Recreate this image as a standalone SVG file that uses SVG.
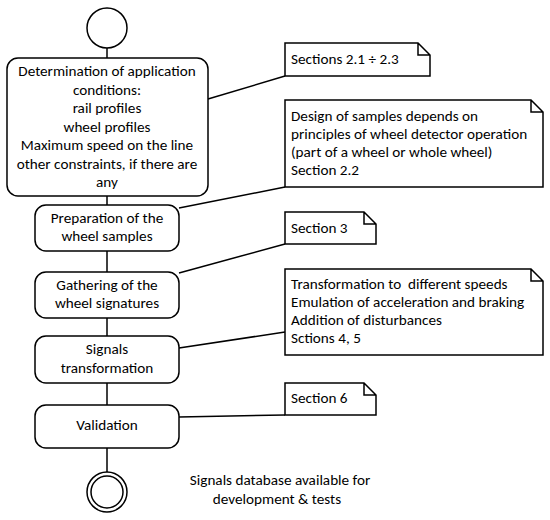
<svg xmlns="http://www.w3.org/2000/svg" width="550" height="520" viewBox="0 0 550 520">
<style>
.n{fill:#fff;stroke:#000;stroke-width:1.5}
.t{font-family:Carlito,"Liberation Sans",sans-serif;font-size:15.2px;fill:#000;white-space:pre}
.c{text-anchor:middle}
.l{stroke:#000;stroke-width:1.5;fill:none}
</style>
<rect width="550" height="520" fill="#fff"/>
<g id="connectors">
<line class="l" x1="107" y1="48" x2="107" y2="58"/>
<line class="l" x1="107" y1="196" x2="107" y2="205"/>
<line class="l" x1="107" y1="251" x2="107" y2="272"/>
<line class="l" x1="107" y1="318" x2="107" y2="336"/>
<line class="l" x1="107" y1="383" x2="107" y2="405"/>
<line class="l" x1="107" y1="448" x2="107" y2="472"/>
<line class="l" x1="208" y1="99" x2="285" y2="76"/>
<line class="l" x1="179" y1="208" x2="285" y2="187"/>
<line class="l" x1="179" y1="273" x2="285" y2="244"/>
<line class="l" x1="179" y1="348" x2="285" y2="332"/>
<line class="l" x1="179" y1="417" x2="285" y2="415"/>
</g>
<g id="start"><circle class="n" cx="107" cy="28" r="20"/></g>
<g id="n1">
<rect class="n" x="7" y="58" width="201" height="138" rx="11"/>
<text class="t c" x="107" y="76">Determination of application</text>
<text class="t c" x="107" y="94.5">conditions:</text>
<text class="t c" x="107" y="113">rail profiles</text>
<text class="t c" x="107" y="131.5">wheel profiles</text>
<text class="t c" x="107" y="150">Maximum speed on the line</text>
<text class="t c" x="107" y="168.5">other constraints, if there are</text>
<text class="t c" x="107" y="187">any</text>
</g>
<g id="n2">
<rect class="n" x="35" y="205" width="144" height="46" rx="11"/>
<text class="t c" x="107" y="223">Preparation of the</text>
<text class="t c" x="107" y="241">wheel samples</text>
</g>
<g id="n3">
<rect class="n" x="35" y="272" width="144" height="46" rx="11"/>
<text class="t c" x="107" y="290">Gathering of the</text>
<text class="t c" x="107" y="308">wheel signatures</text>
</g>
<g id="n4">
<rect class="n" x="35" y="336" width="144" height="47" rx="11"/>
<text class="t c" x="107" y="354">Signals</text>
<text class="t c" x="107" y="373">transformation</text>
</g>
<g id="n5">
<rect class="n" x="35" y="405" width="144" height="43" rx="11"/>
<text class="t c" x="107" y="430">Validation</text>
</g>
<g id="end">
<circle class="n" cx="107" cy="492" r="20"/>
<circle class="n" cx="107" cy="492" r="16"/>
</g>
<g id="endlabel">
<text class="t c" x="280" y="485">Signals database available for</text>
<text class="t c" x="277" y="504">development &amp; tests</text>
</g>
<g id="note1">
<path class="n" d="M285,43 H418 L430,55 V76 H285 Z M418,43 V55 H430"/>
<text class="t" x="291" y="64">Sections 2.1 ÷ 2.3</text>
</g>
<g id="note2">
<path class="n" d="M285,100 H531 L543,112 V187 H285 Z M531,100 V112 H543"/>
<text class="t" x="291" y="121">Design of samples depends on</text>
<text class="t" x="291" y="139">principles of wheel detector operation</text>
<text class="t" x="291" y="157">(part of a wheel or whole wheel)</text>
<text class="t" x="291" y="175">Section 2.2</text>
</g>
<g id="note3">
<path class="n" d="M285,212 H364 L376,224 V244 H285 Z M364,212 V224 H376"/>
<text class="t" x="291" y="233">Section 3</text>
</g>
<g id="note4">
<path class="n" d="M285,269 H531 L543,281 V355 H285 Z M531,269 V281 H543"/>
<text class="t" x="291" y="289">Transformation to  different speeds</text>
<text class="t" x="291" y="307">Emulation of acceleration and braking</text>
<text class="t" x="291" y="325">Addition of disturbances</text>
<text class="t" x="291" y="343">Sctions 4, 5</text>
</g>
<g id="note5">
<path class="n" d="M285,383 H364 L376,395 V415 H285 Z M364,383 V395 H376"/>
<text class="t" x="291" y="403">Section 6</text>
</g>
</svg>
